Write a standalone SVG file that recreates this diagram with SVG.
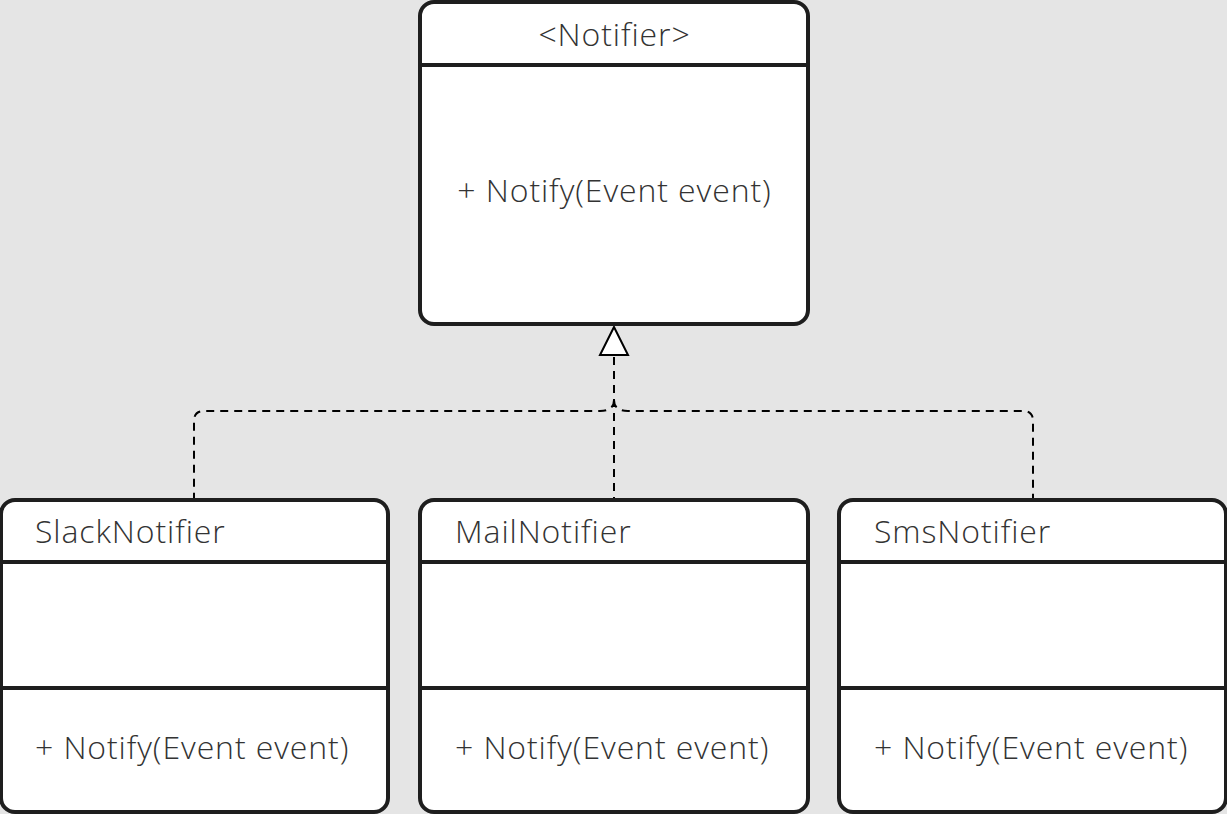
<svg xmlns="http://www.w3.org/2000/svg" width="1227" height="814" viewBox="0 0 1227 814">
<style>
.box{fill:#fff;stroke:#1e1e1e;stroke-width:4}
.div{stroke:#1e1e1e;stroke-width:4}
.t{font-family:"Open Sans",sans-serif;font-size:32px;font-weight:300;letter-spacing:0.9px;fill:#333}
.c{fill:none;stroke:#000;stroke-width:2;stroke-dasharray:8 6}
</style>
<rect width="1227" height="814" fill="#e5e5e5"/>
<g id="connectors">
<path class="c" d="M614 357 V500"/>
<path class="c" d="M614 400 Q614 411 600 411 H204 Q194 411 194 421 V500"/>
<path class="c" d="M614 400 Q614 411 628 411 H1023 Q1033 411 1033 421 V500"/>
<polygon points="614,327 600,355 628,355" fill="#fff" stroke="#000" stroke-width="2"/>
</g>
<g id="notifier">
<rect class="box" x="420" y="2" width="388" height="322" rx="14"/>
<line class="div" x1="420" y1="65" x2="808" y2="65"/>
<text class="t" x="614.5" y="46" text-anchor="middle">&lt;Notifier&gt;</text>
<text class="t" x="614.5" y="202" text-anchor="middle">+ Notify(Event event)</text>
</g>
<g id="slack">
<rect class="box" x="1" y="500" width="387" height="312" rx="14"/>
<line class="div" x1="1" y1="562" x2="388" y2="562"/>
<line class="div" x1="1" y1="688" x2="388" y2="688"/>
<text class="t" x="35" y="543">SlackNotifier</text>
<text class="t" x="35" y="759">+ Notify(Event event)</text>
</g>
<g id="mail">
<rect class="box" x="420" y="500" width="388" height="312" rx="14"/>
<line class="div" x1="420" y1="562" x2="808" y2="562"/>
<line class="div" x1="420" y1="688" x2="808" y2="688"/>
<text class="t" x="455" y="543">MailNotifier</text>
<text class="t" x="455" y="759">+ Notify(Event event)</text>
</g>
<g id="sms">
<rect class="box" x="839" y="500" width="387" height="312" rx="14"/>
<line class="div" x1="839" y1="562" x2="1226" y2="562"/>
<line class="div" x1="839" y1="688" x2="1226" y2="688"/>
<text class="t" x="874" y="543">SmsNotifier</text>
<text class="t" x="874" y="759">+ Notify(Event event)</text>
</g>
</svg>
